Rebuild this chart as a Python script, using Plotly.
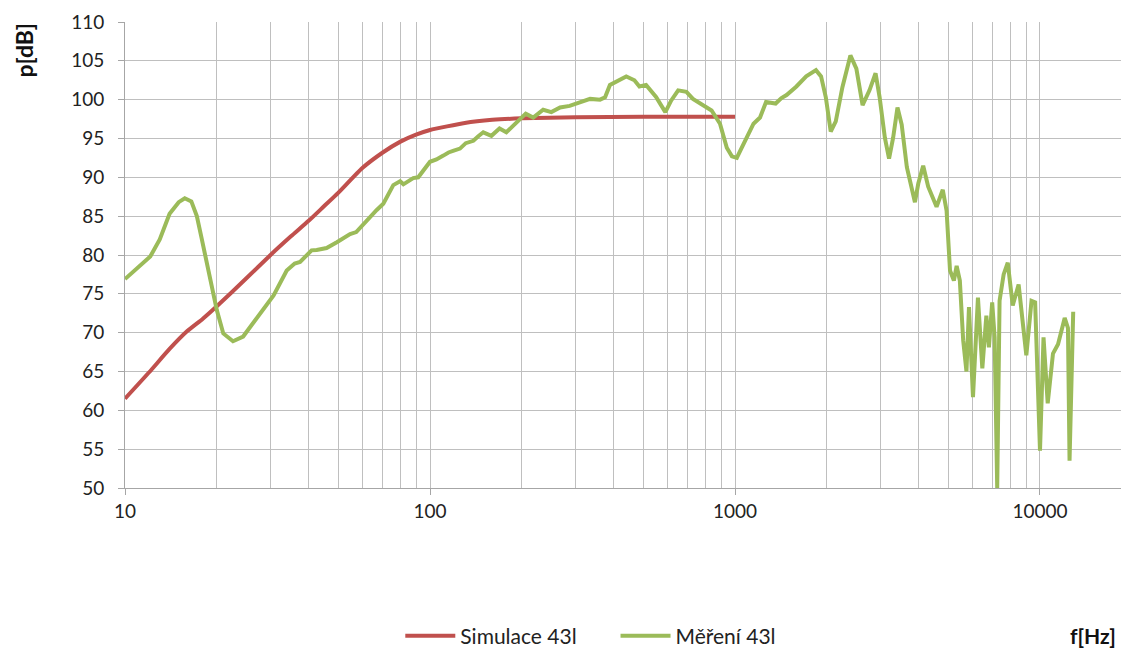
import plotly.graph_objects as go

# Simulated response (Simulace 43l)
sim_f = [10, 12, 14, 16, 18, 20, 25, 30, 35, 40, 45, 50, 60, 70, 80, 90, 100,
         130, 160, 200, 300, 500, 1000]
sim_db = [61.5, 64.9, 67.9, 70.2, 71.8, 73.4, 77.0, 80.0, 82.4, 84.4, 86.3, 88.0,
          91.2, 93.2, 94.6, 95.5, 96.1, 97.0, 97.4, 97.6, 97.75, 97.8, 97.8]

# Measured response (Měření 43l)
meas_f = [10, 11, 12.1, 13, 14, 15, 15.7, 16.5, 17.2, 17.8, 18.4, 19.0, 20.0, 21.0,
          22.6, 24.4, 26, 27.7, 30.7, 33.9, 36, 37.5, 40.9, 42.5, 45.8, 49.5, 54.7,
          57.3, 62.0, 66.9, 70.3, 75.8, 79.8, 81.8, 88.1, 91.5, 100, 105, 110.6, 115,
          119, 125.4, 131, 138.7, 144, 149.5, 159, 169, 178, 191, 206, 218, 235, 250,
          267, 287, 310, 335, 361, 375, 389, 408, 425, 440, 468, 486, 511, 551, 591,
          618, 651, 693, 728, 786, 838, 893, 940, 977, 1014, 1040, 1150, 1208, 1264,
          1359, 1420, 1476, 1590, 1712, 1843, 1915, 1985, 2060, 2140, 2250, 2390,
          2500, 2620, 2760, 2890, 2980, 3100, 3200, 3300, 3410, 3520, 3660, 3800,
          3890, 3990, 4140, 4300, 4580, 4800, 4940, 5070, 5220, 5330, 5460, 5600,
          5740, 5850, 6030, 6260, 6470, 6670, 6800, 6970, 7100, 7240, 7370, 7600,
          7840, 8140, 8510, 9020, 9380, 9640, 10000, 10270, 10600, 11030, 11460,
          12050, 12350, 12500, 12850]
meas_db = [76.9, 78.3, 79.8, 82.0, 85.3, 86.8, 87.3, 86.9, 85.0, 82.3, 79.5, 77.1,
           72.9, 69.9, 68.9, 69.5, 71.0, 72.5, 74.8, 78.0, 78.9, 79.1, 80.6, 80.65,
           80.9, 81.65, 82.7, 82.95, 84.5, 85.8, 86.6, 89.0, 89.5, 89.1, 89.9, 90.0,
           92.0, 92.3, 92.8, 93.2, 93.4, 93.7, 94.4, 94.7, 95.3, 95.8, 95.35, 96.3,
           95.8, 96.9, 98.2, 97.7, 98.7, 98.4, 99.0, 99.2, 99.7, 100.1, 100.0, 100.3,
           101.9, 102.3, 102.6, 103.0, 102.5, 101.7, 101.9, 100.35, 98.4, 99.9, 101.2,
           101.0, 100.1, 99.3, 98.6, 96.9, 93.8, 92.7, 92.5, 93.4, 96.9, 97.7, 99.7,
           99.5, 100.2, 100.6, 101.7, 103.0, 103.8, 103.0, 100.3, 95.9, 97.2, 101.6,
           105.7, 104.0, 99.3, 101.2, 103.4, 100.3, 95.1, 92.4, 95.1, 99.0, 96.8,
           91.3, 88.8, 86.8, 89.2, 91.5, 88.8, 86.2, 88.4, 85.7, 78.0, 76.7, 78.6,
           76.7, 69.0, 65.0, 73.3, 61.7, 74.5, 65.4, 72.2, 68.1, 73.9, 69.4, 50.0,
           74.1, 77.5, 79.0, 73.5, 76.2, 67.1, 74.1, 73.9, 54.8, 69.4, 60.9, 67.3,
           68.5, 71.9, 70.6, 53.5, 72.7]

x_ticks = [10, 100, 1000, 10000]
y_ticks = list(range(50, 111, 5))

grid = "#BFBFBF"
font = "Lato, Liberation Sans, sans-serif"

fig = go.Figure()
fig.add_trace(go.Scatter(x=sim_f, y=sim_db, mode="lines", name="Simulace 43l",
                         legend="legend",
                         line=dict(color="#C0504D", width=4, shape="spline", smoothing=0.5)))
fig.add_trace(go.Scatter(x=meas_f, y=meas_db, mode="lines", name="Měření 43l",
                         legend="legend2",
                         line=dict(color="#9BBB59", width=4)))

leg = dict(orientation="h", y=-0.318, xanchor="left", yanchor="middle",
           font=dict(family=font, size=21, color="#222222"), itemwidth=50,
           bgcolor="rgba(0,0,0,0)")

fig.update_layout(
    width=1121, height=648,
    margin=dict(l=125, r=0, t=22, b=160, autoexpand=False),
    paper_bgcolor="white", plot_bgcolor="white",
    font=dict(family=font, size=19, color="#222222"),
    showlegend=True,
    legend=dict(leg, x=0.2764),
    legend2=dict(leg, x=0.4925),
    xaxis=dict(type="log", range=[1, 4.2656], tickvals=x_ticks,
               ticktext=[str(v) for v in x_ticks],
               showgrid=True, gridcolor=grid, gridwidth=1,
               minor=dict(showgrid=True, gridcolor=grid, gridwidth=1, dtick="D1"),
               showline=True, linecolor="#A6A6A6", linewidth=1,
               ticks="outside", ticklen=6, tickcolor="#A6A6A6",
               zeroline=False, tickfont=dict(size=19)),
    yaxis=dict(range=[50, 110], tickvals=y_ticks, showgrid=True, gridcolor=grid,
               gridwidth=1, showline=True, linecolor="#A6A6A6", linewidth=1,
               ticks="outside", ticklen=6, tickcolor="#A6A6A6", ticklabelstandoff=10,
               zeroline=False, tickfont=dict(size=19)),
    annotations=[
        dict(text="<b>p[dB]</b>", xref="paper", yref="paper", x=-0.1015, y=1.004,
             xanchor="center", yanchor="top", textangle=-90, showarrow=False,
             font=dict(family=font, size=23, color="#111111")),
        dict(text="<b>f[Hz]</b>", xref="paper", yref="paper", x=0.997, y=-0.317,
             xanchor="right", yanchor="middle", showarrow=False,
             font=dict(family=font, size=21, color="#111111")),
    ],
)

fig.write_html("out.html", config={"displayModeBar": False},
               post_script="document.body.style.margin='0';")
